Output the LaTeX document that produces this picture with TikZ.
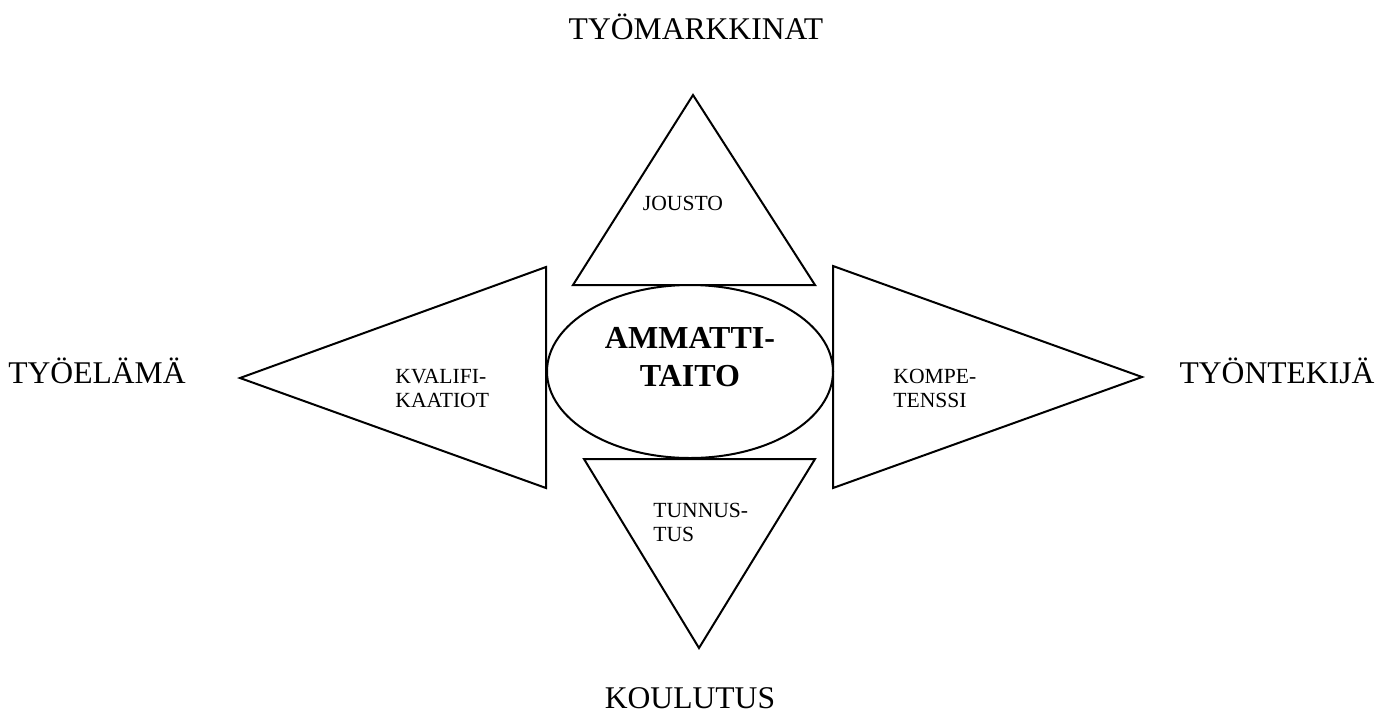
\documentclass[tikz,border=0pt]{standalone}
\usepackage{fontspec}
\setmainfont{Liberation Serif}
\usetikzlibrary{shapes.geometric}
\begin{document}
\begin{tikzpicture}[x=0.5pt,y=-0.5pt,
  shape line/.style={draw=black,line width=1pt,line join=miter,fill=white},
  outer/.style={font=\fontsize{15.8}{18}\selectfont,anchor=base,inner sep=0pt},
  inner/.style={font=\fontsize{10.8}{12}\selectfont,align=left,inner sep=0pt},
  center label/.style={font=\fontsize{16}{19}\selectfont\bfseries,align=center,inner sep=0pt}]
\useasboundingbox[fill=white] (0,0) rectangle (1392,713);
% triangles
\draw[shape line] (693,95) -- (815,285) -- (573,285) -- cycle;
\draw[shape line] (240,378) -- (546,267) -- (546,488) -- cycle;
\draw[shape line] (1142,377) -- (833,266) -- (833,488) -- cycle;
\draw[shape line] (699,648) -- (584,459) -- (815,459) -- cycle;
% ellipse
\node[shape line,ellipse,minimum width=143pt,minimum height=86.5pt,inner sep=0pt,outer sep=0pt] (core) at (690,371.5) {};
\node[center label] (ammatti) at (690,357.5) {AMMATTI-\\TAITO};
% inner labels
\node[inner,anchor=base] (jousto) at (683,210) {JOUSTO};
\node[inner,anchor=west] (kval) at (395,388) {KVALIFI-\\KAATIOT};
\node[inner,anchor=west] (komp) at (893,388) {KOMPE-\\TENSSI};
\node[inner,anchor=west] (tunn) at (653,522.5) {TUNNUS-\\TUS};
% outer labels
\node[outer] (tm) at (696,39) {TYÖMARKKINAT};
\node[outer] (te) at (97,383) {TYÖELÄMÄ};
\node[outer] (tt) at (1277,383) {TYÖNTEKIJÄ};
\node[outer] (ko) at (690,708) {KOULUTUS};
\end{tikzpicture}
\end{document}
